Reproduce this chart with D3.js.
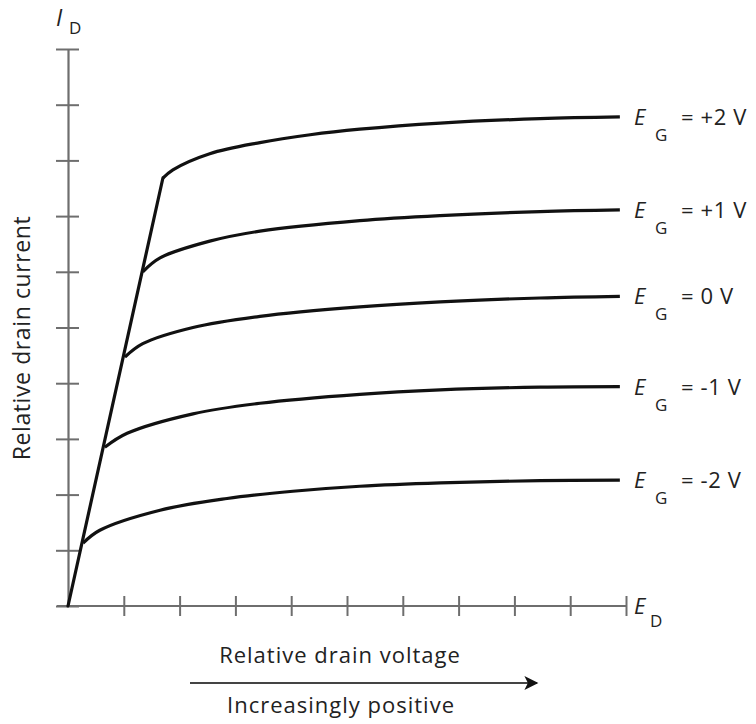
<!DOCTYPE html>
<html>
<head>
<meta charset="utf-8">
<script src="https://cdn.jsdelivr.net/npm/d3@7/dist/d3.min.js"></script>
<style>
  html, body { margin: 0; padding: 0; background: #fff; }
  svg { display: block; }
  text { font-family: "Open Sans", "Noto Sans", sans-serif; fill: #222; }
</style>
</head>
<body>
<svg id="chart" width="756" height="724"></svg>
<script>
// ---- Data (relative units: 10 divisions on each axis) ----
const xTicks = [0, 1, 2, 3, 4, 5, 6, 7, 8, 9, 10];
const yTicks = [0, 1, 2, 3, 4, 5, 6, 7, 8, 9, 10];

const seriesNames = ["+2 V", "+1 V", "0 V", "-1 V", "-2 V"];
const labelEq = ["= +2 V", "= +1 V", "= 0 V", "= -1 V", "= -2 V"];

const curveP2 = [[1.70, 7.68], [1.88, 7.83], [2.54, 8.12], [3.44, 8.32], [4.34, 8.46], [5.23, 8.56], [6.67, 8.67], [8.46, 8.75], [9.89, 8.78]];
const curveP1 = [[1.34, 6.00], [1.65, 6.25], [2.54, 6.55], [3.44, 6.73], [5.23, 6.92], [6.67, 7.01], [8.46, 7.08], [9.89, 7.11]];
const curve0  = [[1.02, 4.47], [1.34, 4.71], [2.24, 5.00], [3.44, 5.20], [5.23, 5.37], [6.67, 5.46], [8.46, 5.53], [9.89, 5.56]];
const curveM1 = [[0.66, 2.85], [1.06, 3.10], [2.24, 3.45], [3.44, 3.64], [5.23, 3.80], [6.67, 3.88], [8.46, 3.93], [9.89, 3.94]];
const curveM2 = [[0.27, 1.13], [0.57, 1.36], [1.65, 1.72], [2.85, 1.93], [4.03, 2.06], [5.23, 2.15], [6.67, 2.21], [8.46, 2.25], [9.89, 2.26]];
const ohmicLine = [[0, 0], [1.70, 7.68]];

const curves = [curveP2, curveP1, curve0, curveM1, curveM2];

// ---- Layout ----
const svg = d3.select("#chart");
const x = d3.scaleLinear().domain([0, 10]).range([68, 626]);
const y = d3.scaleLinear().domain([0, 10]).range([606, 49]);
const axisColor = "#6e6e6e";

// Y axis
const yAxis = svg.append("g").attr("transform", `translate(${x(0)},0)`)
  .call(d3.axisLeft(y).tickValues(yTicks).tickSizeOuter(0).tickFormat(""));
yAxis.select(".domain").attr("stroke", axisColor).attr("stroke-width", 2.2);
yAxis.selectAll(".tick line").attr("x1", -12).attr("x2", 11)
  .attr("stroke", axisColor).attr("stroke-width", 2);

// X axis
const xAxis = svg.append("g").attr("transform", `translate(0,${y(0)})`)
  .call(d3.axisBottom(x).tickValues(xTicks).tickSizeOuter(0).tickFormat(""));
xAxis.select(".domain").attr("stroke", axisColor).attr("stroke-width", 2.2)
  .attr("d", `M${x(0) - 11},0H${x(10)}`);
xAxis.selectAll(".tick line").attr("y1", -10).attr("y2", 10)
  .attr("stroke", axisColor).attr("stroke-width", 2)
  .filter(d => d === 0).remove();

// Curves
const line = d3.line().x(d => x(d[0])).y(d => y(d[1])).curve(d3.curveCatmullRom.alpha(0.5));
const straight = d3.line().x(d => x(d[0])).y(d => y(d[1]));

svg.append("path").attr("d", straight(ohmicLine))
  .attr("fill", "none").attr("stroke", "#111").attr("stroke-width", 3.2)
  .attr("stroke-linecap", "round");

curves.forEach(c => {
  svg.append("path").attr("d", line(c))
    .attr("fill", "none").attr("stroke", "#111").attr("stroke-width", 3.2)
    .attr("stroke-linejoin", "round");
});

// Curve labels
curves.forEach((c, i) => {
  const last = c[c.length - 1];
  const ly = y(last[1]) + 8;
  const g = svg.append("g");
  g.append("text").attr("x", 634).attr("y", ly).attr("font-size", 22)
    .attr("font-style", "italic").text("E");
  g.append("text").attr("x", 655).attr("y", ly + 16).attr("font-size", 17).text("G");
  g.append("text").attr("x", 681).attr("y", ly).attr("font-size", 22)
    .attr("letter-spacing", 0.6).attr("xml:space", "preserve").text(labelEq[i]);
});

// Axis labels
svg.append("text").attr("x", 56).attr("y", 26).attr("font-size", 23)
  .attr("font-style", "italic").text("I");
svg.append("text").attr("x", 69).attr("y", 34).attr("font-size", 17).text("D");

svg.append("text").attr("x", 634).attr("y", 614).attr("font-size", 22)
  .attr("font-style", "italic").text("E");
svg.append("text").attr("x", 650).attr("y", 627).attr("font-size", 17).text("D");

svg.append("text").attr("transform", "translate(30,338) rotate(-90)")
  .attr("text-anchor", "middle").attr("font-size", 23).attr("letter-spacing", 0.6)
  .text("Relative drain current");

svg.append("text").attr("x", 340).attr("y", 663).attr("text-anchor", "middle")
  .attr("font-size", 22).attr("letter-spacing", 1).text("Relative drain voltage");
svg.append("text").attr("x", 341).attr("y", 713).attr("text-anchor", "middle")
  .attr("font-size", 22).attr("letter-spacing", 1).text("Increasingly positive");

// Arrow
svg.append("defs").append("marker").attr("id", "arr")
  .attr("viewBox", "0 0 10 10").attr("refX", 9).attr("refY", 5)
  .attr("markerWidth", 16).attr("markerHeight", 14).attr("markerUnits", "userSpaceOnUse")
  .attr("orient", "auto")
  .append("path").attr("d", "M0,0L10,5L0,10L2.5,5Z").attr("fill", "#111");
svg.append("line").attr("x1", 190).attr("x2", 537).attr("y1", 683).attr("y2", 683)
  .attr("stroke", "#444").attr("stroke-width", 2).attr("marker-end", "url(#arr)");
</script>
</body>
</html>
